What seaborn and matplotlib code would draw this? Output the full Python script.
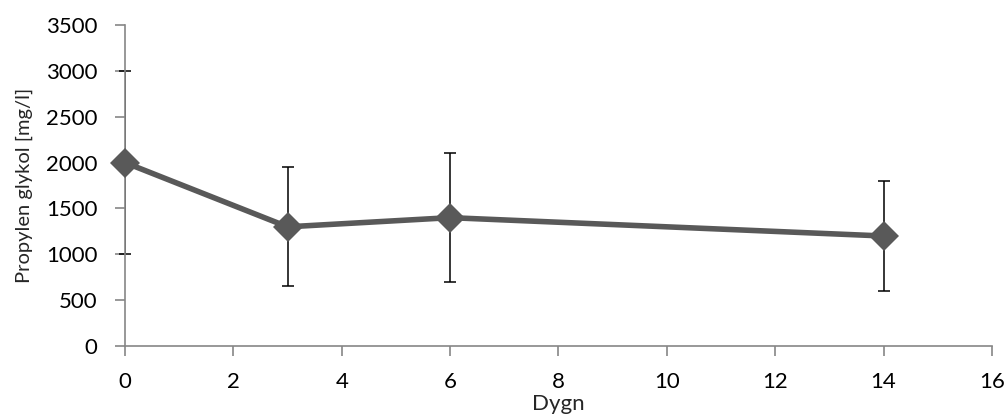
import pandas as pd
import seaborn as sns
import matplotlib.pyplot as plt

dygn = [0, 3, 6, 14]
glykol = [2000, 1300, 1400, 1200]
fel = [1000, 650, 700, 600]

data = pd.DataFrame({"Dygn": dygn, "Glykol": glykol, "Fel": fel})

sns.set_theme(style="white")
plt.rcParams["font.family"] = ["Lato", "DejaVu Sans"]

fig = plt.figure(figsize=(10.06, 4.16), dpi=100)
ax = fig.add_axes([0.1243, 0.168, 0.8617, 0.772])

ax.errorbar(data["Dygn"], data["Glykol"], yerr=data["Fel"], fmt="none",
            ecolor="black", elinewidth=1.1, capsize=4.3, capthick=1.1, zorder=2)
sns.lineplot(data=data, x="Dygn", y="Glykol", ax=ax, color="#595959",
             linewidth=4, marker="D", markersize=15, markeredgewidth=0,
             zorder=3)

ax.set_xlim(0, 16)
ax.set_ylim(0, 3500)
ax.set_xticks(range(0, 17, 2))
ax.set_yticks(range(0, 3501, 500))
ax.tick_params(axis="both", labelsize=16, colors="#868686", length=7,
               width=1.2, direction="out", labelcolor="black")
ax.tick_params(axis="x", bottom=True, pad=11.5)
ax.tick_params(axis="y", left=True, pad=13)
for s in ["top", "right"]:
    ax.spines[s].set_visible(False)
for s in ["left", "bottom"]:
    ax.spines[s].set_color("#868686")
    ax.spines[s].set_linewidth(1.2)

ax.set_xlabel("Dygn", fontsize=16, va="top")
ax.xaxis.set_label_coords(0.5, -0.15)
ax.set_ylabel("Propylen glykol [mg/l]", fontsize=14.5, labelpad=9)
for line in ax.get_lines():
    line.set_clip_on(False)

fig.savefig("out.png", dpi=100)
